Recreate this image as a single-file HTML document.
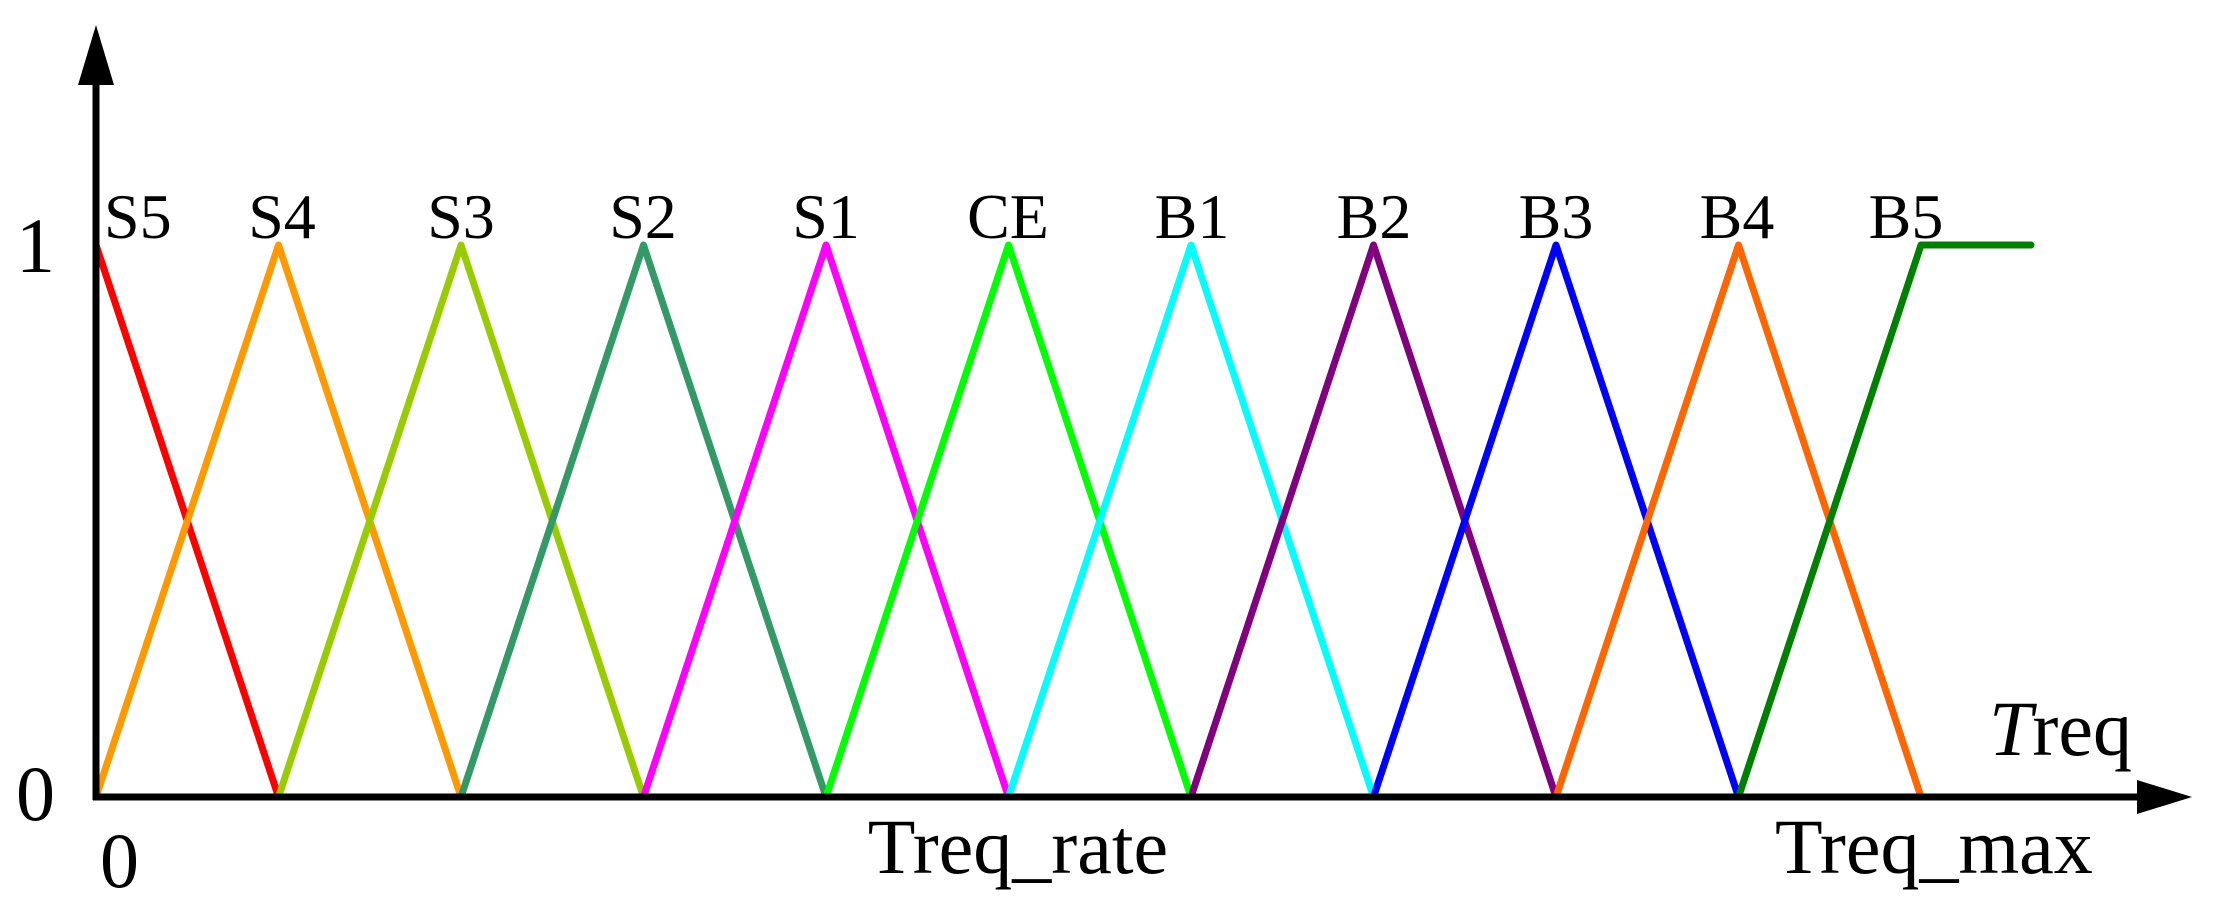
<!DOCTYPE html>
<html><head><meta charset="utf-8"><style>
html,body{margin:0;padding:0;background:#fff;}
svg{display:block;}
text{font-family:"Liberation Serif",serif;fill:#000;}
</style></head><body>
<svg width="2219" height="915" viewBox="0 0 2219 915" xmlns="http://www.w3.org/2000/svg">
<g stroke-width="7" stroke-linecap="round" stroke-linejoin="round" fill="none">
<polyline points="96,245 278.5,797" stroke="#ff0000"/>
<polyline points="96,797 278.5,245 461,797" stroke="#ff9900"/>
<polyline points="278.5,797 461,245 643.5,797" stroke="#99cc00"/>
<polyline points="461,797 643.5,245 826,797" stroke="#339966"/>
<polyline points="643.5,797 826,245 1008.5,797" stroke="#ff00ff"/>
<polyline points="826,797 1008.5,245 1191,797" stroke="#00ff00"/>
<polyline points="1008.5,797 1191,245 1373.5,797" stroke="#00ffff"/>
<polyline points="1191,797 1373.5,245 1556,797" stroke="#800080"/>
<polyline points="1373.5,797 1556,245 1738.5,797" stroke="#0000ff"/>
<polyline points="1556,797 1738.5,245 1921,797" stroke="#ff6600"/>
<polyline points="1738.5,797 1921,245 2031,245" stroke="#008000"/>
</g>
<line x1="96" y1="800" x2="96" y2="80" stroke="#000" stroke-width="7"/>
<polygon points="96,25 78,85 114,85" fill="#000"/>
<line x1="93" y1="797" x2="2140" y2="797" stroke="#000" stroke-width="7"/>
<polygon points="2192,797 2137,780 2137,814" fill="#000"/>
<g font-size="64">
<text x="104" y="238">S5</text>
<text x="282" y="238" text-anchor="middle">S4</text>
<text x="461" y="238" text-anchor="middle">S3</text>
<text x="643" y="238" text-anchor="middle">S2</text>
<text x="826" y="238" text-anchor="middle">S1</text>
<text x="1008" y="238" text-anchor="middle">CE</text>
<text x="1192" y="238" text-anchor="middle">B1</text>
<text x="1374" y="238" text-anchor="middle">B2</text>
<text x="1556" y="238" text-anchor="middle">B3</text>
<text x="1737" y="238" text-anchor="middle">B4</text>
<text x="1906" y="238" text-anchor="middle">B5</text>
</g>
<g font-size="78">
<text x="16" y="272">1</text>
<text x="16" y="820">0</text>
<text x="100" y="887">0</text>
</g>
<g font-size="78">
<text x="1018" y="873" text-anchor="middle">Treq_rate</text>
<text x="1775" y="873">Treq_max</text>
<text x="2132" y="755" text-anchor="end"><tspan font-style="italic">T</tspan>req</text>
</g>
</svg>
</body></html>
